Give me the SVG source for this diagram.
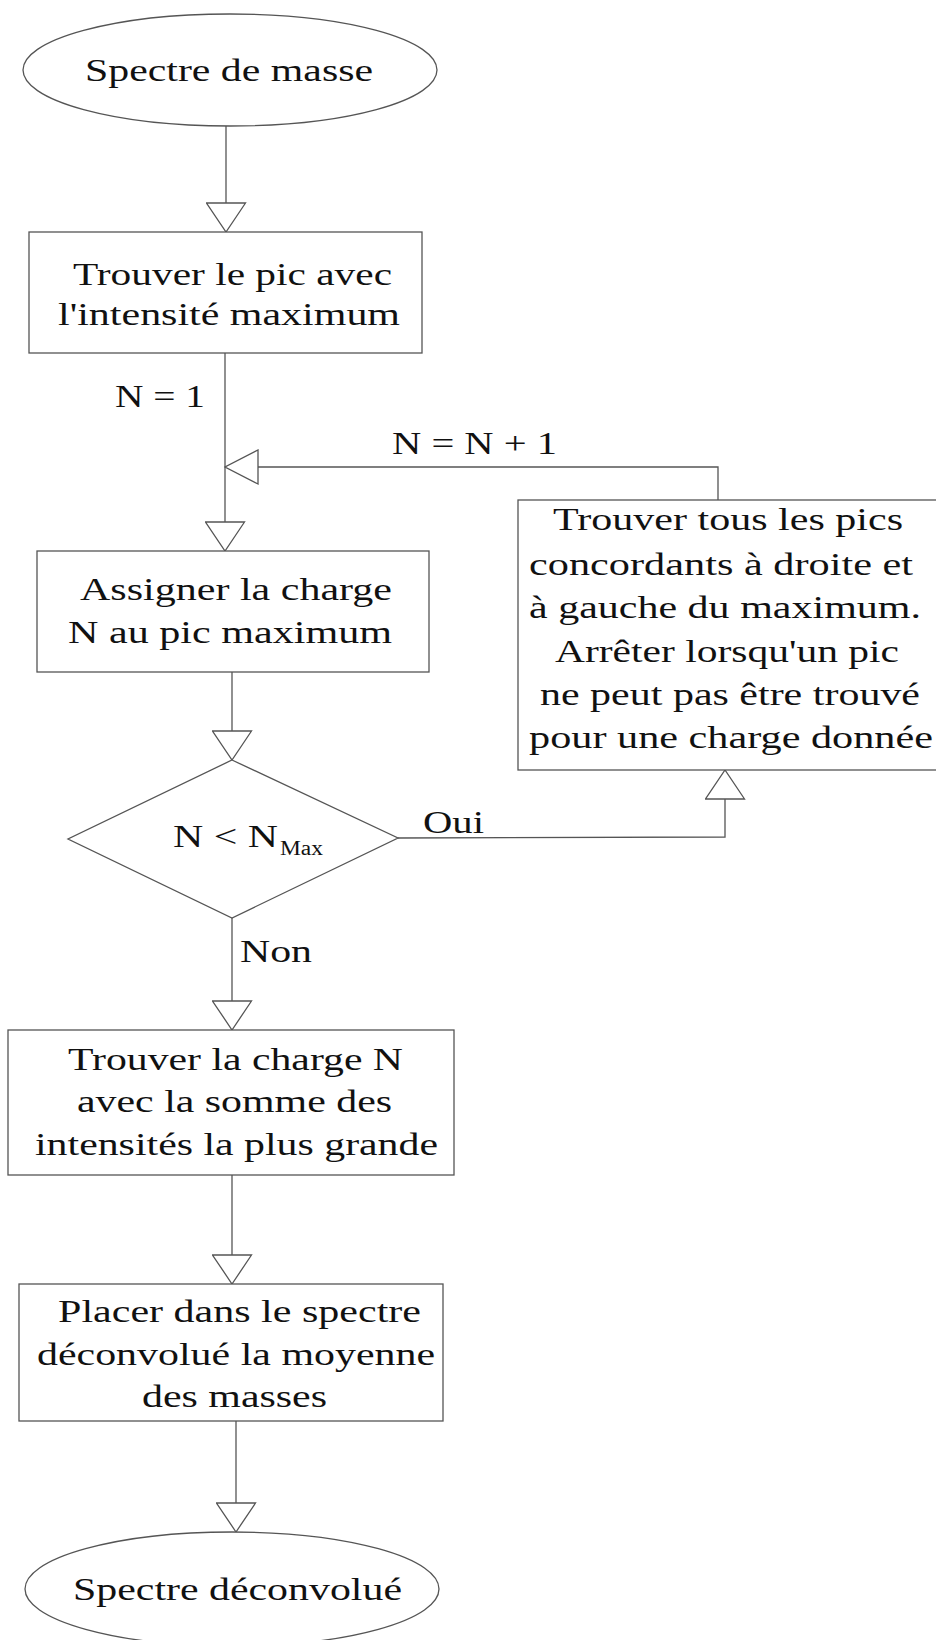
<svg xmlns="http://www.w3.org/2000/svg" width="936" height="1640" viewBox="0 0 936 1640">
<style>
.shape{fill:#fff;stroke:#555;stroke-width:1.3}
.conn{fill:none;stroke:#555;stroke-width:1.3}
text{font-family:"Liberation Serif","Times New Roman",serif;font-size:32px;fill:#111}
.sub{font-size:20px}
</style>
<defs>
<marker id="av" markerUnits="userSpaceOnUse" viewBox="-1 -1 31 41" refX="29" refY="19.5" markerWidth="31" markerHeight="41" orient="auto">
<path d="M0,0 L29,19.5 L0,39 Z" fill="#fff" stroke="#555" stroke-width="1.3"/>
</marker>
<marker id="ah" markerUnits="userSpaceOnUse" viewBox="-1 -1 35 36" refX="33" refY="17" markerWidth="35" markerHeight="36" orient="auto">
<path d="M0,0 L33,17 L0,34 Z" fill="#fff" stroke="#555" stroke-width="1.3"/>
</marker>
</defs>
<rect width="936" height="1640" fill="#fff"/>
<g id="connectors">
<path class="conn" d="M226,126 L226,232" marker-end="url(#av)"/>
<path class="conn" d="M225,353 L225,551" marker-end="url(#av)"/>
<path class="conn" d="M718,500 L718,467 L225,467" marker-end="url(#ah)"/>
<path class="conn" d="M232,672 L232,760" marker-end="url(#av)"/>
<path class="conn" d="M398,838 L725,837 L725,770" marker-end="url(#av)"/>
<path class="conn" d="M232,918 L232,1030" marker-end="url(#av)"/>
<path class="conn" d="M232,1175 L232,1284" marker-end="url(#av)"/>
<path class="conn" d="M236,1421 L236,1532" marker-end="url(#av)"/>
<text x="115" y="407" textLength="90" lengthAdjust="spacingAndGlyphs">N = 1</text>
<text x="392" y="454" textLength="165" lengthAdjust="spacingAndGlyphs">N = N + 1</text>
<text x="423" y="833" textLength="61" lengthAdjust="spacingAndGlyphs">Oui</text>
<text x="240" y="962" textLength="72" lengthAdjust="spacingAndGlyphs">Non</text>
</g>
<g id="start">
<ellipse class="shape" cx="230" cy="70" rx="207" ry="56"/>
<text x="85" y="81" textLength="288" lengthAdjust="spacingAndGlyphs">Spectre de masse</text>
</g>
<g id="find-max">
<rect class="shape" x="29" y="232" width="393" height="121"/>
<text x="73" y="285" textLength="319" lengthAdjust="spacingAndGlyphs">Trouver le pic avec</text>
<text x="58" y="325" textLength="342" lengthAdjust="spacingAndGlyphs">l'intensité maximum</text>
</g>
<g id="assign">
<rect class="shape" x="37" y="551" width="392" height="121"/>
<text x="80" y="600" textLength="312" lengthAdjust="spacingAndGlyphs">Assigner la charge</text>
<text x="68" y="643" textLength="324" lengthAdjust="spacingAndGlyphs">N au pic maximum</text>
</g>
<g id="find-all">
<rect class="shape" x="518" y="500" width="430" height="270"/>
<text x="553" y="530" textLength="350" lengthAdjust="spacingAndGlyphs">Trouver tous les pics</text>
<text x="529" y="575" textLength="384" lengthAdjust="spacingAndGlyphs">concordants à droite et</text>
<text x="529" y="618" textLength="392" lengthAdjust="spacingAndGlyphs">à gauche du maximum.</text>
<text x="555" y="662" textLength="344" lengthAdjust="spacingAndGlyphs">Arrêter lorsqu'un pic</text>
<text x="540" y="705" textLength="380" lengthAdjust="spacingAndGlyphs">ne peut pas être trouvé</text>
<text x="529" y="748" textLength="404" lengthAdjust="spacingAndGlyphs">pour une charge donnée</text>
</g>
<g id="decision">
<polygon class="shape" points="232,760 398,838 232,918 68,839"/>
<text x="173" y="847" textLength="105" lengthAdjust="spacingAndGlyphs">N &lt; N</text>
<text class="sub" x="280" y="855" textLength="43" lengthAdjust="spacingAndGlyphs">Max</text>
</g>
<g id="find-charge">
<rect class="shape" x="8" y="1030" width="446" height="145"/>
<text x="68" y="1070" textLength="335" lengthAdjust="spacingAndGlyphs">Trouver la charge N</text>
<text x="77" y="1112" textLength="315" lengthAdjust="spacingAndGlyphs">avec la somme des</text>
<text x="35" y="1155" textLength="403" lengthAdjust="spacingAndGlyphs">intensités la plus grande</text>
</g>
<g id="place">
<rect class="shape" x="19" y="1284" width="424" height="137"/>
<text x="58" y="1322" textLength="363" lengthAdjust="spacingAndGlyphs">Placer dans le spectre</text>
<text x="37" y="1365" textLength="398" lengthAdjust="spacingAndGlyphs">déconvolué la moyenne</text>
<text x="142" y="1407" textLength="185" lengthAdjust="spacingAndGlyphs">des masses</text>
</g>
<g id="end">
<ellipse class="shape" cx="232" cy="1589" rx="207" ry="57"/>
<text x="73" y="1600" textLength="329" lengthAdjust="spacingAndGlyphs">Spectre déconvolué</text>
</g>
</svg>
